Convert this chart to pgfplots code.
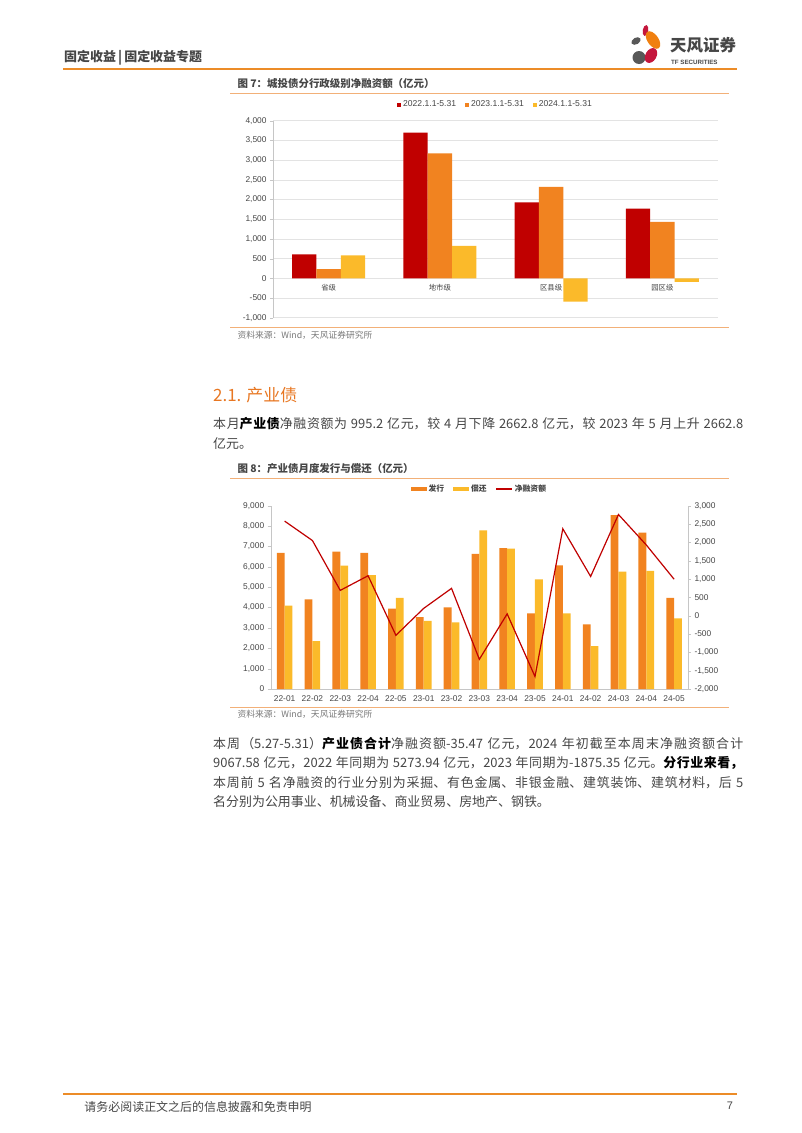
\documentclass[border=0pt]{standalone}
\usepackage{pgfplots}
\pgfplotsset{compat=1.18}
\usepackage{fontspec}
\setmainfont{Noto Sans CJK SC}
\newfontfamily\arialf{Liberation Sans}
\definecolor{cRed}{RGB}{192,0,0}
\definecolor{cOrg}{RGB}{241,131,32}
\definecolor{cYel}{RGB}{251,186,42}
\definecolor{hdrline}{RGB}{236,140,40}
\definecolor{ttlline}{RGB}{242,176,120}
\definecolor{txt}{RGB}{70,70,70}
\definecolor{tick}{RGB}{70,70,70}
\definecolor{src}{RGB}{120,120,120}
\definecolor{head}{RGB}{232,119,34}
\definecolor{lgOrg}{RGB}{240,128,16}
\definecolor{lgRed}{RGB}{196,22,60}
\definecolor{lgGray}{RGB}{88,88,88}
\XeTeXlinebreaklocale "zh"
\XeTeXlinebreakskip=0pt plus 1pt
\pgfplotsset{
  tickfont/.style={font=\arialf\fontsize{8.4}{9}\selectfont, text=tick},
  sq/.style={legend image code/.code={\fill[##1] (0bp,-2bp) rectangle (4bp,2bp);}},
  rect/.style={legend image code/.code={\fill[##1] (0bp,-2.2bp) rectangle (16bp,2.2bp);}},
  lineleg/.style={legend image code/.code={\draw[##1] (0bp,0bp) -- (16bp,0bp);}},
}
\begin{document}
\begin{tikzpicture}
\begin{scope}[x=1bp,y=-1bp]
\path[use as bounding box, fill=white] (0,0) rectangle (802,1133);
% header
\node[anchor=west, inner sep=0, font=\fontsize{13}{14}\selectfont\bfseries, text=txt] at (64,57.3) {固定收益\,|\,固定收益专题};
\draw[hdrline, line width=2bp] (63.3,69.3) -- (737.3,69.3);
% logo
\fill[lgGray, rotate around={30:(636,41)}] (636,41) ellipse (5 and 3.3);
\fill[lgRed, rotate around={-10:(645.5,30.5)}] (645.5,30.5) ellipse (2.8 and 5.5);
\fill[lgOrg, rotate around={35:(653,40)}] (653,40) ellipse (5.5 and 10);
\fill[lgGray] (639,57.5) circle (6.5);
\fill[lgRed, rotate around={-30:(651,55.5)}] (651,55.5) ellipse (5.5 and 8);
\node[anchor=west, inner sep=0, font=\fontsize{16.5}{17}\selectfont\bfseries, text=txt] at (670,45) {天风证券};
\node[anchor=west, inner sep=0, font=\arialf\fontsize{6.2}{7}\selectfont\bfseries, text=txt] at (671,62.7) {TF SECURITIES};
% chart 1 frame
\node[anchor=west, inner sep=0, font=\fontsize{10.5}{11}\selectfont\bfseries, text=txt] at (237.3,84) {图 7：城投债分行政级别净融资额（亿元）};
\draw[ttlline, line width=1.3bp] (230,93.3) -- (729,93.3);
\draw[ttlline, line width=1.3bp] (230,327.7) -- (729,327.7);
\node[anchor=west, inner sep=0, font=\fontsize{8.8}{9}\selectfont, text=src] at (237.3,335.5) {资料来源：Wind，天风证券研究所};
\coordinate (A1) at (273,120.7);
% section heading and paragraph
\node[anchor=west, inner sep=0, font=\fontsize{17}{18}\selectfont, text=head] at (213,395) {2.1. 产业债};
\node[anchor=base west, inner sep=0, text=txt] at (213,428.8) {\parbox[t]{530bp}{\fontsize{13}{19.3}\selectfont 本月\textbf{\color{black}产业债}净融资额为 995.2 亿元，较 4 月下降 2662.8 亿元，较 2023 年 5 月上升 2662.8\linebreak 亿元。}};
% chart 2 frame
\node[anchor=west, inner sep=0, font=\fontsize{10.5}{11}\selectfont\bfseries, text=txt] at (237.3,469) {图 8：产业债月度发行与偿还（亿元）};
\draw[ttlline, line width=1.3bp] (230,478.3) -- (729,478.3);
\draw[ttlline, line width=1.3bp] (230,707.3) -- (729,707.3);
\node[anchor=west, inner sep=0, font=\fontsize{8.8}{9}\selectfont, text=src] at (237.3,714.5) {资料来源：Wind，天风证券研究所};
\coordinate (A2) at (270.7,505.7);
% paragraph 2
\node[anchor=base west, inner sep=0, text=txt] at (213,748.6) {\parbox[t]{530bp}{\fontsize{13}{19.3}\selectfont 本周（5.27-5.31）\textbf{\color{black}产业债合计}净融资额-35.47 亿元，2024 年初截至本周末净融资额合计\linebreak 9067.58 亿元，2022 年同期为 5273.94 亿元，2023 年同期为-1875.35 亿元。\textbf{\color{black}分行业来看，}\linebreak 本周前 5 名净融资的行业分别为采掘、有色金属、非银金融、建筑装饰、建筑材料，后 5\linebreak 名分别为公用事业、机械设备、商业贸易、房地产、钢铁。}};
% footer
\draw[hdrline, line width=2bp] (63.3,1094.3) -- (737.3,1094.3);
\node[anchor=west, inner sep=0, font=\fontsize{12}{13}\selectfont, text=txt] at (84.3,1106.7) {请务必阅读正文之后的信息披露和免责申明};
\node[inner sep=0, font=\arialf\fontsize{11}{12}\selectfont, text=txt] at (730,1106) {7};
\end{scope}

% ---------- chart 1 ----------
\begin{axis}[at={(A1)}, anchor=north west, scale only axis, width=445bp, height=197bp,
  xmin=-0.5, xmax=3.5, ymin=-1000, ymax=4000, ytick={-1000,-500,...,4000},
  xtick=\empty, ymajorgrids, grid style={draw=gray!22, line width=0.6bp},
  axis lines*=left, x axis line style={draw=none}, y axis line style={draw=gray!45},
  ytick style={draw=gray!45}, tick align=outside, major tick length=3bp,
  yticklabel style={tickfont}, clip=false,
  /pgf/number format/.cd, 1000 sep={,}, assume math mode=true,
  /pgfplots/.cd,
  legend style={at={(0.5,1.081)}, anchor=center, draw=none, fill=none, legend columns=3,
    font=\arialf\fontsize{8.6}{9}\selectfont, text=tick, inner sep=0pt,
    /tikz/every even column/.append style={column sep=7bp}},
]
\addplot[ybar, bar width=24.3bp, bar shift=-24.3bp, fill=cRed, draw=none, sq] coordinates {(0,610) (1,3700) (2,1925) (3,1770)};
\addplot[ybar, bar width=24.3bp, bar shift=0bp, fill=cOrg, draw=none, sq] coordinates {(0,230) (1,3170) (2,2320) (3,1430)};
\addplot[ybar, bar width=24.3bp, bar shift=24.3bp, fill=cYel, draw=none, sq] coordinates {(0,585) (1,820) (2,-590) (3,-90)};
\legend{2022.1.1-5.31, 2023.1.1-5.31, 2024.1.1-5.31}
\node[anchor=north, inner sep=0, yshift=-6bp, font=\fontsize{7.4}{8}\selectfont, text=tick] at (axis cs:0,0) {省级};
\node[anchor=north, inner sep=0, yshift=-6bp, font=\fontsize{7.4}{8}\selectfont, text=tick] at (axis cs:1,0) {地市级};
\node[anchor=north, inner sep=0, yshift=-6bp, font=\fontsize{7.4}{8}\selectfont, text=tick] at (axis cs:2,0) {区县级};
\node[anchor=north, inner sep=0, yshift=-6bp, font=\fontsize{7.4}{8}\selectfont, text=tick] at (axis cs:3,0) {园区级};
\end{axis}

% ---------- chart 2 ----------
\begin{axis}[at={(A2)}, anchor=north west, scale only axis, width=417.3bp, height=183.3bp,
  xmin=-0.5, xmax=14.5, ymin=0, ymax=9000, ytick={0,1000,...,9000},
  xtick={0,...,14}, xticklabels={22-01,22-02,22-03,22-04,22-05,23-01,23-02,23-03,23-04,23-05,24-01,24-02,24-03,24-04,24-05},
  axis x line*=bottom, axis y line*=left, axis line style={draw=gray!45},
  x tick style={draw=none}, ytick style={draw=gray!45}, tick align=outside, major tick length=3bp,
  yticklabel style={tickfont}, xticklabel style={tickfont},
  /pgf/number format/.cd, 1000 sep={,}, assume math mode=true,
  /pgfplots/.cd,
  legend style={at={(0.5,1.091)}, anchor=center, draw=none, fill=none, legend columns=3,
    font=\fontsize{7.8}{9}\selectfont\bfseries, text=tick, inner sep=0pt,
    /tikz/every even column/.append style={column sep=7bp}},
]
\addplot[ybar, bar width=7.8bp, bar shift=-3.9bp, fill=cOrg, draw=none, rect] coordinates {
(0,6680) (1,4400) (2,6740) (3,6680) (4,3945) (5,3535) (6,4010) (7,6630) (8,6920) (9,3715) (10,6070) (11,3175) (12,8540) (13,7680) (14,4470)};
\addplot[ybar, bar width=7.8bp, bar shift=3.9bp, fill=cYel, draw=none, rect] coordinates {
(0,4090) (1,2355) (2,6055) (3,5595) (4,4470) (5,3340) (6,3275) (7,7790) (8,6890) (9,5385) (10,3715) (11,2110) (12,5760) (13,5795) (14,3470)};
\addlegendimage{cRed, line width=1.2bp, lineleg}
\legend{发行, 偿还, 净融资额}
\end{axis}
\begin{axis}[at={(A2)}, anchor=north west, scale only axis, width=417.3bp, height=183.3bp,
  xmin=-0.5, xmax=14.5, ymin=-2000, ymax=3000, ytick={-2000,-1500,...,3000},
  axis x line=none, axis y line*=right, axis line style={draw=gray!45},
  ytick style={draw=gray!45}, tick align=outside, major tick length=3bp,
  yticklabel style={tickfont},
  /pgf/number format/.cd, 1000 sep={,}, assume math mode=true,
]
\addplot[cRed, line width=1.2bp, mark=none] coordinates {
(0,2580) (1,2050) (2,690) (3,1090) (4,-535) (5,200) (6,745) (7,-1190) (8,50) (9,-1660) (10,2370) (11,1070) (12,2760) (13,1930) (14,995)};
\end{axis}
\end{tikzpicture}
\end{document}
